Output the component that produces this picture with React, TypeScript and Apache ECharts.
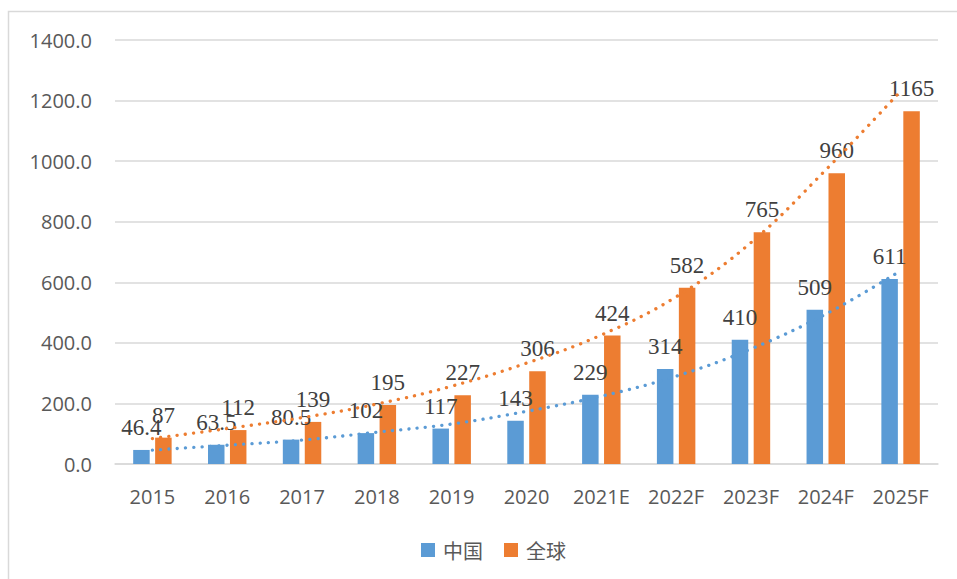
import { useEffect, useRef } from 'react';
import * as echarts from 'echarts';

const categories = ['2015', '2016', '2017', '2018', '2019', '2020', '2021E', '2022F', '2023F', '2024F', '2025F'];
const chinaValues = [46.4, 63.5, 80.5, 102, 117, 143, 229, 314, 410, 509, 611];
const globalValues = [87, 112, 139, 195, 227, 306, 424, 582, 765, 960, 1165];
// dotted trend lines at each category
const chinaTrend = [46, 62, 79, 105, 132, 174, 224, 290, 380, 495, 638];
const globalTrend = [84, 117, 153, 198, 257, 333, 426, 552, 731, 971, 1231];
const yMin = 0;
const yMax = 1400;
const yStep = 200;

const BLUE = '#5B9BD5';
const ORANGE = '#ED7D31';

export default function App() {
  const ref = useRef<HTMLDivElement>(null);
  useEffect(() => {
    if (!ref.current) return;
    const chart = echarts.init(ref.current, undefined, { renderer: 'svg' });
    const labelStyle = {
      show: true,
      position: 'top' as const,
      distance: 11,
      fontFamily: '"Liberation Serif", "Times New Roman", serif',
      fontSize: 23,
      color: '#404040',
    };
    const trendLine = (color: string) => ({
      color,
      width: 3.3,
      type: [0.1, 8.2],
      cap: 'round' as const,
    });
    chart.setOption({
      animation: false,
      backgroundColor: '#ffffff',
      grid: { left: 115, right: 19, top: 40, bottom: 115 },
      graphic: [
        {
          type: 'rect',
          shape: { x: 8.5, y: 11.5, width: 1200, height: 1200 },
          style: { fill: 'none', stroke: '#d9d9d9', lineWidth: 1.5 },
          silent: true,
        },
      ],
      legend: {
        data: ['中国', '全球'],
        left: 416,
        top: 535,
        icon: 'rect',
        itemWidth: 14,
        itemHeight: 14,
        itemGap: 21,
        textStyle: {
          fontFamily: '"Noto Sans CJK SC", sans-serif',
          fontSize: 20,
          color: '#595959',
          padding: [0, 0, 0, 3],
        },
      },
      xAxis: {
        type: 'category',
        data: categories,
        axisTick: { show: false },
        axisLine: { lineStyle: { color: '#d9d9d9', width: 1.5 } },
        axisLabel: {
          fontFamily: '"Open Sans", sans-serif',
          fontSize: 20,
          color: '#595959',
          margin: 22,
        },
      },
      yAxis: {
        type: 'value',
        min: yMin,
        max: yMax,
        interval: yStep,
        axisLine: { show: false },
        axisTick: { show: false },
        splitLine: { lineStyle: { color: '#d9d9d9', width: 1.5 } },
        axisLabel: {
          fontFamily: '"Open Sans", sans-serif',
          fontSize: 20,
          color: '#595959',
          margin: 23,
          formatter: (v: number) => v.toFixed(1),
        },
      },
      series: [
        {
          name: '中国',
          type: 'bar',
          data: chinaValues,
          barWidth: 16.5,
          barGap: '33%',
          itemStyle: { color: BLUE },
          label: labelStyle,
          z: 2,
        },
        {
          name: '全球',
          type: 'bar',
          data: globalValues,
          barWidth: 16.5,
          barGap: '33%',
          itemStyle: { color: ORANGE },
          label: labelStyle,
          z: 2,
        },
        {
          name: '中国趋势',
          type: 'line',
          data: chinaTrend,
          smooth: 0.4,
          symbol: 'none',
          lineStyle: trendLine(BLUE),
          z: 5,
          silent: true,
        },
        {
          name: '全球趋势',
          type: 'line',
          data: globalTrend,
          smooth: 0.4,
          symbol: 'none',
          lineStyle: trendLine(ORANGE),
          z: 5,
          silent: true,
        },
      ],
    });
    return () => chart.dispose();
  }, []);
  return (
    <div
      ref={ref}
      style={{ position: 'absolute', left: 0, top: 0, width: 957, height: 579, background: '#fff' }}
    />
  );
}
